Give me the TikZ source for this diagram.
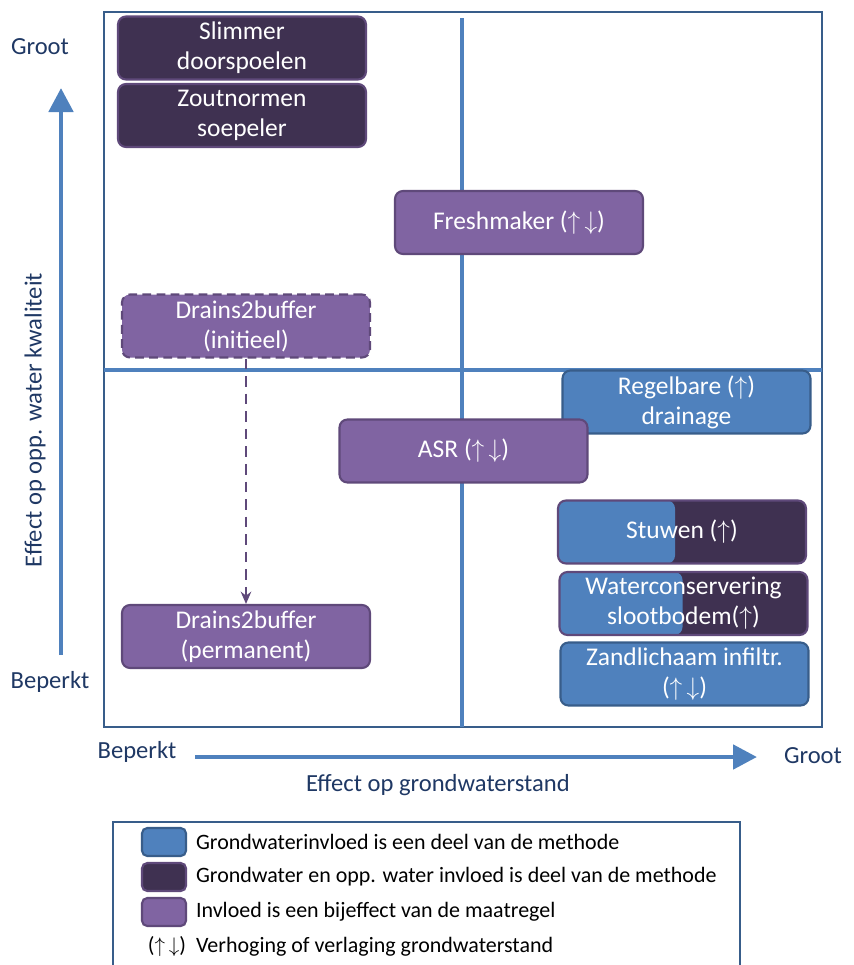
\documentclass[tikz,border=0pt]{standalone}
\usepackage{fontspec}
\setmainfont{Carlito}
\usepackage{xcolor}
\usepackage{tikz}
\usetikzlibrary{arrows.meta,positioning}
\definecolor{kader}{RGB}{56,93,138}
\definecolor{blauw}{RGB}{79,129,189}
\definecolor{blauwrand}{RGB}{56,93,138}
\definecolor{donker}{RGB}{63,49,81}
\definecolor{paars}{RGB}{128,100,162}
\definecolor{paarsrand}{RGB}{95,73,122}
\definecolor{astekst}{RGB}{31,56,100}
\newcommand{\omhoog}{$\uparrow$}
\newcommand{\omlaag}{$\downarrow$}

\begin{document}
\begin{tikzpicture}[x=0.02cm, y=-0.02cm,
              blok/.style={rounded corners=4.5pt, minimum width=4.96cm, minimum height=1.26cm,
                           inner sep=1pt, align=center, text=white, line width=1.2pt,
                           font=\fontsize{14.5}{17}\selectfont},
              grond/.style={blok, fill=blauw, draw=blauwrand},
              beide/.style={blok, fill=donker, draw=paarsrand},
              bij/.style={blok, fill=paars, draw=paarsrand},
              as/.style={line width=2.8pt, blauw, -{Triangle[length=0.48cm,width=0.48cm]}},
              aslabel/.style={text=astekst, font=\fontsize{14}{17}\selectfont},
              vakje/.style={rounded corners=3pt, minimum width=0.88cm, minimum height=0.56cm, line width=1.2pt},
              legtekst/.style={font=\fontsize{12.5}{15}\selectfont, inner sep=1pt},
             ]
\useasboundingbox (0,0) rectangle (854,965);
% kwadranten
\draw[kader, line width=1.5pt] (104,12) rectangle (822,727);
\draw[blauw, line width=2pt] (462,18) -- (462,727);
\draw[blauw, line width=2pt] (104,370) -- (822,370);

% maatregelen
\node[beide] (slimmer) at (242,48) {Slimmer\\doorspoelen};
\node[beide] (zout) at (242,115.5) {Zoutnormen\\soepeler};
\node[bij] (fresh) at (519,222.5) {Freshmaker (\omhoog\,\omlaag)};
\node[bij, dashed, dash pattern=on 5pt off 3pt] (initieel) at (246,326) {Drains2buffer\\(initieel)};
\node[grond] (regel) at (686.5,402) {Regelbare (\omhoog)\\drainage};
\node[bij] (asr) at (463.5,451) {ASR (\omhoog\,\omlaag)};
\node[beide, draw=paarsrand, path picture={\fill[blauw] (path picture bounding box.south west)
      rectangle ([xshift=2.34cm]path picture bounding box.north west);}] (stuwen) at (682,532) {Stuwen (\omhoog)};
\node[beide, draw=paarsrand, path picture={\fill[blauw] (path picture bounding box.south west)
      rectangle ([xshift=2.46cm]path picture bounding box.north west);}] (water) at (683.5,603.5) {Waterconservering\\slootbodem(\omhoog)};
\node[grond] (zand) at (684.5,674) {Zandlichaam infiltr.\\(\omhoog\,\omlaag)};
\node[bij] (permanent) at (246,636.5) {Drains2buffer\\(permanent)};
\draw[paarsrand, line width=1.5pt, dash pattern=on 6pt off 4pt, -{Stealth[length=7pt,width=6pt]}] (initieel) -- (permanent);

% assen
\coordinate (yonder) at (61,655);
\coordinate (yboven) at (61,88);
\coordinate (xlinks) at (195,757);
\coordinate (xrechts) at (757,757);
\draw[as] (yonder) -- (yboven);
\draw[as] (xlinks) -- (xrechts);
\node[aslabel] (ygroot) at (40,47) {Groot};
\node[aslabel] (ybeperkt) at (50,682) {Beperkt};
\node[aslabel, rotate=90] (ytitel) at (35,420) {Effect op opp. water kwaliteit};
\node[aslabel] (xbeperkt) at (137,752) {Beperkt};
\node[aslabel] (xgroot) at (813,756) {Groot};
\node[aslabel] (xtitel) at (438,785) {Effect op grondwaterstand};

% legenda
\draw[kader, line width=1.5pt] (113,965) -- (113,822) -- (740,822) -- (740,965);
\node[vakje, fill=blauw, draw=blauwrand] (v1) at (164,842) {};
\node[vakje, fill=donker, draw=paarsrand] (v2) at (164,877) {};
\node[vakje, fill=paars, draw=paarsrand] (v3) at (164,912) {};
\node[legtekst, anchor=west] (t1) at (194,842) {Grondwaterinvloed is een deel van de methode};
\node[legtekst, anchor=west] (t2) at (194,877) {Grondwater en opp. water invloed is deel van de methode};
\node[legtekst, anchor=west] (t3) at (194,912) {Invloed is een bijeffect van de maatregel};
\node[legtekst] (v4) at (167,947) {(\omhoog\,\omlaag)};
\node[legtekst, anchor=west] (t4) at (194,947) {Verhoging of verlaging grondwaterstand};
\end{tikzpicture}
\end{document}
